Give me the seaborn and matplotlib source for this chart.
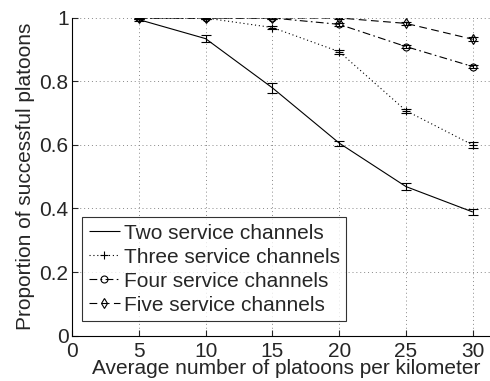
import matplotlib
matplotlib.use("Agg")
import matplotlib.pyplot as plt
import seaborn as sns
import pandas as pd

# Average number of platoons per kilometer
density = [5, 10, 15, 20, 25, 30]

# Proportion of successful platoons for each number of service channels
two_ch = [0.995, 0.935, 0.780, 0.606, 0.469, 0.389]
three_ch = [1.000, 1.000, 0.970, 0.894, 0.708, 0.600]
four_ch = [1.000, 1.000, 1.000, 0.980, 0.910, 0.847]
five_ch = [1.000, 1.000, 1.000, 1.000, 0.983, 0.933]

# Half-widths of the confidence intervals
two_err = [0.004, 0.010, 0.015, 0.008, 0.010, 0.008]
three_err = [0.002, 0.002, 0.005, 0.006, 0.006, 0.008]
four_err = [0.002, 0.002, 0.002, 0.005, 0.005, 0.006]
five_err = [0.002, 0.002, 0.002, 0.003, 0.005, 0.006]

labels = ["Two service channels", "Three service channels",
          "Four service channels", "Five service channels"]

x_ticks = [0, 5, 10, 15, 20, 25, 30]
y_ticks = [0, 0.2, 0.4, 0.6, 0.8, 1]

sns.set_style("white")
plt.rcParams["font.family"] = ["Liberation Sans", "DejaVu Sans"]
plt.rcParams["font.size"] = 15

fig = plt.figure(figsize=(4.9, 3.81), dpi=100)
ax = fig.add_axes([72 / 490, 1 - 335.5 / 381, 427.5 / 490, 317.5 / 381])

series = [two_ch, three_ch, four_ch, five_ch]
errors = [two_err, three_err, four_err, five_err]
styles = [((0, ()), None, 0), ((0, (1, 2.5)), "+", 6),
          ((0, (7, 3, 1.5, 3)), "o", 5), ((0, (7, 4)), "d", 5)]

for vals, errs, lab, (ls, mk, ms) in zip(series, errors, labels, styles):
    df = pd.DataFrame({"x": density, "y": vals})
    sns.lineplot(data=df, x="x", y="y", ax=ax, color="black", linewidth=0.8,
                 linestyle=ls, marker=mk, markersize=ms,
                 markerfacecolor="none", markeredgecolor="black",
                 markeredgewidth=0.8, label=lab)
    ax.errorbar(density, vals, yerr=errs, fmt="none", ecolor="black",
                elinewidth=0.8, capsize=3.5, capthick=0.8)

ax.set_xlim(0, 32)
ax.set_ylim(0, 1)
ax.set_xticks(x_ticks)
ax.set_yticks(y_ticks)
ax.set_yticklabels(["0", "0.2", "0.4", "0.6", "0.8", "1"])
ax.grid(True, linestyle=(0, (1, 3)), color="#888888", linewidth=0.7)
ax.tick_params(direction="in", length=4, width=0.8, labelsize=15,
               bottom=True, left=True)
ax.tick_params(axis="x", pad=4.5)
ax.tick_params(axis="y", pad=2.5)
for s in ["top", "right"]:
    ax.spines[s].set_visible(False)
for s in ["left", "bottom"]:
    ax.spines[s].set_color("black")
    ax.spines[s].set_linewidth(0.8)

ax.set_xlabel("Average number of platoons per kilometer", fontsize=15, labelpad=-1)
ax.set_ylabel("Proportion of successful platoons", fontsize=15, labelpad=3)

leg = ax.legend(loc="lower left", bbox_to_anchor=(0.024, 0.046), fontsize=15,
                frameon=True, fancybox=False, edgecolor="black",
                handlelength=1.5, handletextpad=0.2, borderpad=0.3,
                labelspacing=0.24, borderaxespad=0)
leg.get_frame().set_linewidth(0.8)

fig.savefig("out.png", dpi=100)
